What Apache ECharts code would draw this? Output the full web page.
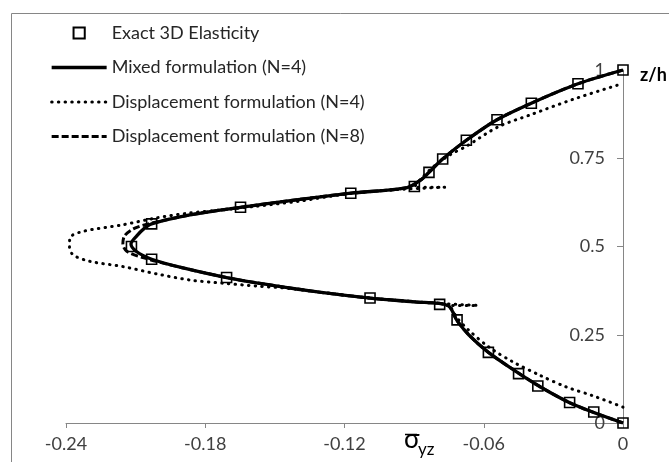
<!DOCTYPE html>
<html>
<head>
<meta charset="utf-8">
<script src="https://cdn.jsdelivr.net/npm/echarts@6/dist/echarts.min.js"></script>
<style>html,body{margin:0;padding:0;background:#fff}#c{width:669px;height:462px}</style>
</head>
<body>
<div id="c"></div>
<script>
// Tick labels
const xTicks = [-0.24, -0.18, -0.12, -0.06, 0];
const yTicks = [0, 0.25, 0.5, 0.75, 1];

// Exact 3D Elasticity (markers)
const exactX = [0, -0.0126, -0.023, -0.0367, -0.045, -0.058, -0.0715, -0.079, -0.109, -0.1708, -0.2031, -0.2118, -0.2031, -0.1648, -0.1173, -0.0899, -0.0836, -0.0777, -0.0675, -0.0543, -0.0395, -0.0194, 0];
const exactZ = [0, 0.031, 0.058, 0.105, 0.14, 0.2, 0.292, 0.336, 0.354, 0.412, 0.464, 0.5, 0.564, 0.611, 0.651, 0.67, 0.71, 0.748, 0.801, 0.859, 0.906, 0.961, 1.0];

// Mixed formulation (N=4)
const mixX = [0, -0.0205, -0.035, -0.047, -0.058, -0.0665, -0.0715, -0.0755, -0.09, -0.109, -0.13, -0.151, -0.1708, -0.19, -0.2031, -0.2095, -0.212, -0.2095, -0.2065, -0.2031, -0.186, -0.1648, -0.14, -0.1173, -0.093, -0.0868, -0.0836, -0.0777, -0.0675, -0.0543, -0.0395, -0.0194, 0];
const mixZ = [0, 0.05, 0.1, 0.15, 0.2, 0.25, 0.29, 0.333, 0.343, 0.354, 0.37, 0.39, 0.412, 0.44, 0.464, 0.485, 0.507, 0.53, 0.55, 0.564, 0.59, 0.611, 0.633, 0.651, 0.667, 0.69, 0.71, 0.748, 0.801, 0.859, 0.906, 0.961, 1.0];

// Displacement formulation (N=4)
const disp4X = [0, -0.0129, -0.0244, -0.0359, -0.0474, -0.058, -0.0668, -0.0715, -0.0745, -0.0626, -0.08, -0.095, -0.109, -0.125, -0.1436, -0.158, -0.1723, -0.1866, -0.201, -0.2154, -0.2297, -0.2369, -0.2385, -0.2383, -0.2326, -0.2154, -0.201, -0.1866, -0.1723, -0.158, -0.14, -0.12, -0.1, -0.0768, -0.09, -0.0866, -0.081, -0.0745, -0.0675, -0.0538, -0.0395, -0.0215, 0];
const disp4Z = [0.045, 0.077, 0.102, 0.1355, 0.173, 0.216, 0.265, 0.298, 0.333, 0.333, 0.339, 0.346, 0.354, 0.366, 0.381, 0.388, 0.396, 0.405, 0.4225, 0.443, 0.458, 0.476, 0.5, 0.525, 0.543, 0.5617, 0.581, 0.595, 0.604, 0.614, 0.628, 0.648, 0.66, 0.668, 0.668, 0.695, 0.73, 0.76, 0.784, 0.839, 0.874, 0.917, 0.962];

// Displacement formulation (N=8)
const disp8X = [0, -0.0205, -0.035, -0.047, -0.058, -0.0665, -0.0715, -0.0755, -0.09, -0.109, -0.13, -0.151, -0.1708, -0.19, -0.2045, -0.2135, -0.2155, -0.2148, -0.211, -0.2045, -0.186, -0.1648, -0.14, -0.1173, -0.093, -0.0868, -0.0836, -0.0777, -0.0675, -0.0543, -0.0395, -0.0194, 0];
const disp8Z = [0, 0.05, 0.1, 0.15, 0.2, 0.25, 0.29, 0.333, 0.343, 0.354, 0.37, 0.39, 0.412, 0.44, 0.464, 0.485, 0.507, 0.53, 0.55, 0.564, 0.59, 0.611, 0.633, 0.651, 0.667, 0.69, 0.71, 0.748, 0.801, 0.859, 0.906, 0.961, 1.0];

const seriesNames = ['Exact 3D Elasticity', 'Mixed formulation (N=4)', 'Displacement formulation (N=4)', 'Displacement formulation (N=8)'];

const pairs = (xs, zs) => xs.map((x, i) => [x, zs[i]]);
const FONT = 'Lato';
const chart = echarts.init(document.getElementById('c'), null, {renderer: 'canvas'});
chart.setOption({
  animation: false,
  backgroundColor: '#fff',
  textStyle: {fontFamily: FONT},
  grid: {left: 66, right: 46, top: 70, bottom: 39, containLabel: false},
  legend: {
    orient: 'vertical', left: 50, top: 24, padding: 0, itemWidth: 55, itemHeight: 14, itemGap: 16.5,
    textStyle: {fontFamily: FONT, fontSize: 18, color: '#262626'},
    data: [
      {name: seriesNames[0]},
      {name: seriesNames[1], itemStyle: {opacity: 0}, lineStyle: {width: 3.3, color: '#000'}},
      {name: seriesNames[2], itemStyle: {opacity: 0}, lineStyle: {width: 3, color: '#000', type: [0.5, 6.2], cap: 'round'}},
      {name: seriesNames[3], itemStyle: {opacity: 0}, lineStyle: {width: 3, color: '#000', type: [7, 3]}}
    ]
  },
  xAxis: {
    type: 'value', min: xTicks[0], max: xTicks[xTicks.length - 1], interval: 0.06,
    splitLine: {show: false},
    axisLine: {onZero: false, lineStyle: {color: '#868686', width: 1}},
    axisTick: {show: true, length: 5, lineStyle: {color: '#868686'}},
    axisLabel: {fontFamily: FONT, fontSize: 18, color: '#404040', margin: 12,
      formatter: v => String(+v.toFixed(2))}
  },
  yAxis: {
    type: 'value', position: 'right', min: yTicks[0], max: yTicks[yTicks.length - 1], interval: 0.25,
    splitLine: {show: false},
    axisLine: {show: true, onZero: false, lineStyle: {color: '#868686', width: 1}},
    axisTick: {show: true, inside: true, length: 6, lineStyle: {color: '#868686'}},
    axisLabel: {inside: true, fontFamily: FONT, fontSize: 18, color: '#404040', margin: 18,
      formatter: v => String(+v.toFixed(2))}
  },
  graphic: [
    {type: 'rect', shape: {x: 11.5, y: 13.5, width: 700, height: 500}, style: {fill: 'none', stroke: '#868686', lineWidth: 1}, silent: true, z: -10},
    {type: 'text', x: 640, y: 66, style: {text: 'z/h', fontFamily: FONT, fontSize: 18, fontWeight: 'bold', fill: '#000'}},
    {type: 'text', x: 404, y: 427, style: {text: 'σ', fontFamily: FONT, fontSize: 26, fill: '#000'}},
    {type: 'text', x: 418, y: 441, style: {text: 'yz', fontFamily: FONT, fontSize: 17, fill: '#000'}},
    {type: 'line', shape: {x1: 405, y1: 434.5, x2: 417, y2: 434.5}, style: {stroke: '#000', lineWidth: 1.5}}
  ],
  series: [
    {
      name: seriesNames[0], type: 'line', data: pairs(exactX, exactZ),
      symbol: 'rect', symbolSize: 10, showSymbol: true,
      lineStyle: {width: 0, opacity: 0},
      itemStyle: {color: 'rgba(255,255,255,0)', borderColor: '#000', borderWidth: 1.6},
      z: 10
    },
    {
      name: seriesNames[1], type: 'line', data: pairs(mixX, mixZ),
      smooth: 0.3, showSymbol: false, symbol: 'none',
      lineStyle: {color: '#000', width: 3.3}, itemStyle: {color: '#000'}, z: 3
    },
    {
      name: seriesNames[2], type: 'line', data: pairs(disp4X, disp4Z),
      smooth: 0.3, showSymbol: false, symbol: 'none',
      lineStyle: {color: '#000', width: 3, type: [0.5, 6.2], cap: 'round'}, itemStyle: {color: '#000'}, z: 4
    },
    {
      name: seriesNames[3], type: 'line', data: pairs(disp8X, disp8Z),
      smooth: 0.3, showSymbol: false, symbol: 'none',
      lineStyle: {color: '#000', width: 3, type: [7, 3]}, itemStyle: {color: '#000'}, z: 5
    }
  ]
});
</script>
</body>
</html>
